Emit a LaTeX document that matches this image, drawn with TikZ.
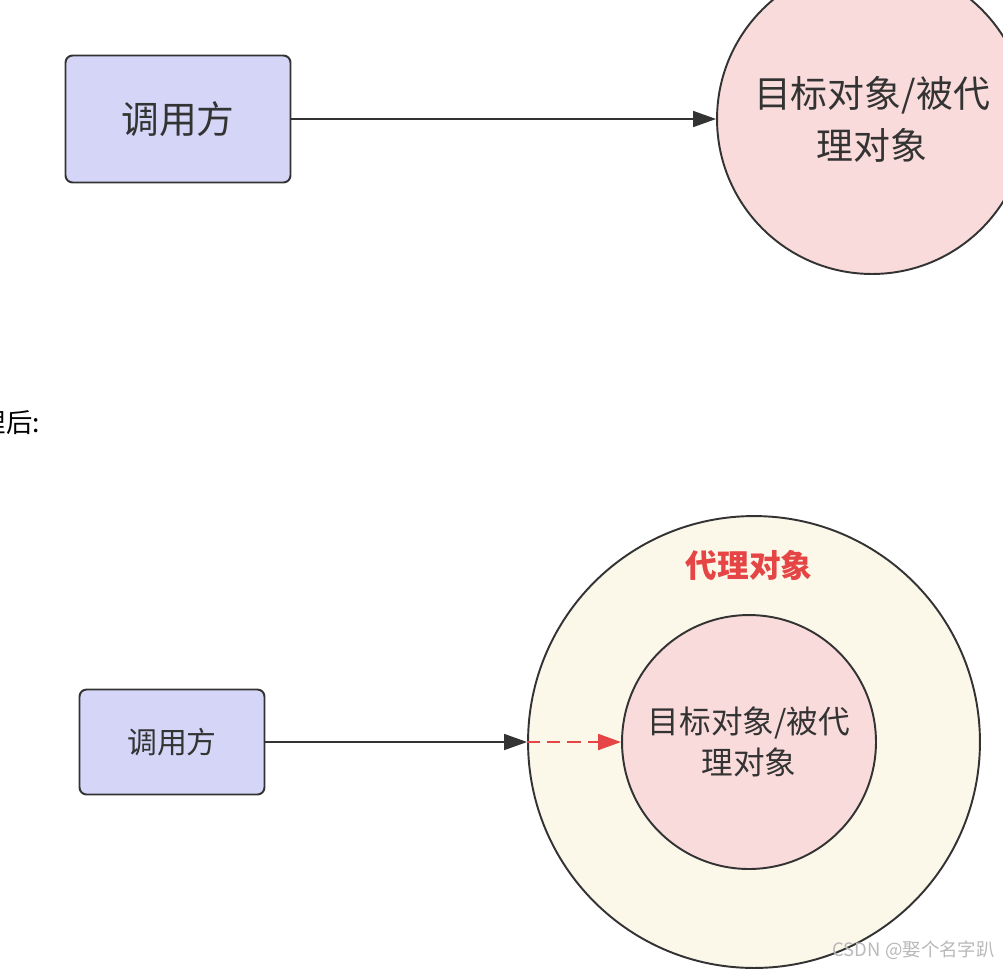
\documentclass[tikz,border=0pt]{standalone}
\usepackage{fontspec}
\setmainfont{Noto Sans CJK SC}
\usepackage{xcolor}
\usepackage{tikz}
\usetikzlibrary{arrows.meta}
\definecolor{edgeK}{HTML}{333333}
\definecolor{callerB}{HTML}{D4D5F7}
\definecolor{targetP}{HTML}{F9DBDB}
\definecolor{proxyC}{HTML}{FBF8EA}
\definecolor{proxyR}{HTML}{E54545}

\begin{document}
\begin{tikzpicture}[x=0.02cm, y=-0.02cm,
    callerbox/.style={draw=edgeK, fill=callerB, line width=1.1pt,
      rounded corners=4pt, text=edgeK},
    objcircle/.style={circle, draw=edgeK, line width=1.1pt, inner sep=0pt,
      align=center, text=edgeK},
    callarrow/.style={-{Triangle[length=13pt, width=9pt]}, edgeK, line width=1.1pt},
    proxyarrow/.style={-{Triangle[length=13pt, width=9pt]}, proxyR,
      line width=1.3pt, dash pattern=on 7.5pt off 4pt}]
  \useasboundingbox (0,0) rectangle (1003,971);
  \clip (0,0) rectangle (1003,971);
  \fill[white] (0,0) rectangle (1003,971);

  % before: caller talks to the target directly
  \node[callerbox, minimum width=4.5cm, minimum height=2.54cm,
    font=\fontsize{21.5}{26}\selectfont] (callerTop) at (178,119) {调用方};
  \node[objcircle, fill=targetP, minimum size=6.2cm,
    font=\fontsize{21}{29.5}\selectfont] (targetTop) at (872,119)
    {目标对象/被代\\理对象};
  \draw[callarrow] (callerTop.east) -- (targetTop.west);

  \node[anchor=east, font=\fontsize{15}{18}\selectfont] (afterCap) at (46,423)
    {代理后:};

  % after: the proxy wraps the target
  \node[callerbox, minimum width=3.7cm, minimum height=2.1cm,
    font=\fontsize{17}{20}\selectfont] (callerBot) at (172,742) {调用方};
  \node[objcircle, fill=proxyC, minimum size=9.04cm] (proxyOuter) at (754,742) {};
  \node[objcircle, fill=targetP, minimum size=5.08cm,
    font=\fontsize{18}{23}\selectfont] (targetInner) at (749,742)
    {目标对象/被代\\理对象};
  \node[font=\fontsize{18}{22}\selectfont\bfseries, text=proxyR] (proxyLabel)
    at (749,565) {代理对象};
  \draw[callarrow] (callerBot.east) -- (proxyOuter.west);
  \draw[proxyarrow] (proxyOuter.west) -- (targetInner.west);

  \node[anchor=east, text=gray!55, font=\fontsize{10.5}{12}\selectfont]
    (csdnMark) at (1001,950) {CSDN @娶个名字趴};
\end{tikzpicture}
\end{document}
